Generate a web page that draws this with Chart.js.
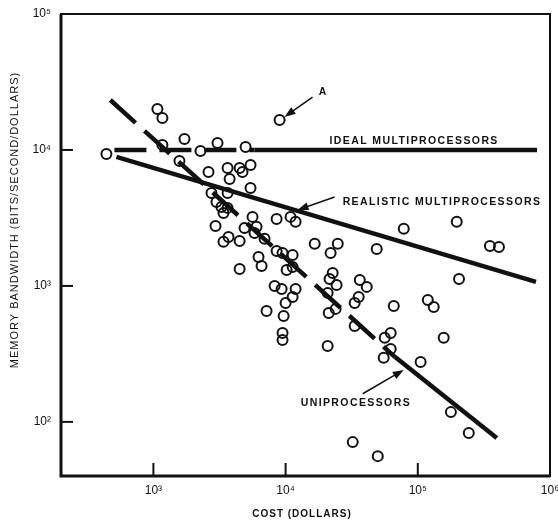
<!DOCTYPE html>
<html><head><meta charset="utf-8">
<script src="https://cdn.jsdelivr.net/npm/chart.js@4/dist/chart.umd.min.js"></script>
<style>html,body{margin:0;padding:0;background:#fff}#wrap{width:558px;height:520px}</style>
</head><body><div id="wrap"><canvas id="c" width="558" height="520"></canvas></div>
<script>
// ---- data ----
const costDollars = [441,1072,1170,1170,1718,1574,2270,3055,4980,2610,3640,4490,5430,4720,3770,5430,2750,3640,3000,3270,
  3640,3390,5620,2950,4890,6030,5820,3700,3390,4490,6930,8550,9010,10900,11900,16600,8550,9480,11300,6240,
  6580,4490,10180,11300,8260,9330,11900,11300,10000,7180,9660,9480,9480,24800,21900,48900,78300,22700,21500,24300,
  20800,23900,21200,36400,41100,35700,33300,65800,119000,132000,33300,20800,62400,56200,62400,55200,105000,157000,197000,351000,
  411000,205000,178000,243000,32200,49800];
const bandwidth = [9350,20000,17200,10900,12050,8300,9840,11250,10500,6890,7380,7380,7760,6890,6120,5260,4830,4830,4150,3810,
  3750,3440,3220,2760,2670,2720,2450,2290,2110,2140,2220,3110,16630,3220,2960,2040,1810,1750,1690,1630,
  1400,1334,1312,1380,1000,950,950,830,750,655,601,451,401,2040,1750,1870,2630,1246,1125,1016,
  889,678,633,1107,984,830,750,713,789,701,508,362,451,415,344,296,276,415,2960,1970,
  1935,1125,118,83,71,56];
const idealCost = [507, 5820, 798000];
const idealBW   = [10000, 10000, 10000];
const realisticCost = [525, 783000];
const realisticBW   = [8890, 1070];
const uniCost = [472, 67000, 396000];
const uniBW   = [23300, 301, 76];
const xTickValues = [1e3, 1e4, 1e5, 1e6];
const xTickLabels = ['10³', '10⁴', '10⁵', '10⁶'];
const yTickValues = [1e2, 1e3, 1e4, 1e5];
const yTickLabels = ['10²', '10³', '10⁴', '10⁵'];
const xTitle = 'COST (DOLLARS)';
const yTitle = 'MEMORY BANDWIDTH (BITS/SECOND/DOLLARS)';
const labelTexts = ['A', 'IDEAL MULTIPROCESSORS', 'REALISTIC MULTIPROCESSORS', 'UNIPROCESSORS'];
const labelCost  = [17800, 21500, 27000, 13000];
const labelBW    = [26700, 11650, 4150, 138];
const arrowFromCost = [16000, 23500, 38300];
const arrowFromBW   = [24500, 4510, 161];
const arrowToCost   = [9820, 12300, 78300];
const arrowToBW     = [17500, 3620, 241];

const toPts = (xs, ys) => xs.map((x, i) => ({x, y: ys[i]}));
const INK = '#111';
const FONT = '"Liberation Sans", Arial, sans-serif';

const decor = {
  id: 'decor',
  afterDraw(chart) {
    const ctx = chart.ctx, a = chart.chartArea;
    const xs = chart.scales.x, ys = chart.scales.y;
    ctx.save();
    ctx.strokeStyle = INK; ctx.fillStyle = INK;
    // frame
    ctx.lineWidth = 2;
    ctx.strokeRect(a.left, a.top, a.right - a.left, a.bottom - a.top);
    ctx.lineWidth = 3;
    ctx.beginPath(); ctx.moveTo(a.left, a.top); ctx.lineTo(a.left, a.bottom); ctx.lineTo(a.right, a.bottom); ctx.stroke();
    // inner ticks
    ctx.lineWidth = 2;
    yTickValues.forEach(v => {
      const y = ys.getPixelForValue(v);
      ctx.beginPath(); ctx.moveTo(a.left, y); ctx.lineTo(a.left + 12, y); ctx.stroke();
    });
    xTickValues.forEach(v => {
      const x = xs.getPixelForValue(v);
      ctx.beginPath(); ctx.moveTo(x, a.bottom); ctx.lineTo(x, a.bottom - 13); ctx.stroke();
    });
    // annotation labels
    ctx.font = 'bold 10.5px ' + FONT;
    ctx.letterSpacing = '1.4px';
    ctx.textBaseline = 'middle'; ctx.textAlign = 'left';
    labelTexts.forEach((t, i) => {
      ctx.fillText(t, xs.getPixelForValue(labelCost[i]), ys.getPixelForValue(labelBW[i]));
    });
    // arrows
    ctx.lineWidth = 1.5;
    arrowFromCost.forEach((c, i) => {
      const x1 = xs.getPixelForValue(c), y1 = ys.getPixelForValue(arrowFromBW[i]);
      const x2 = xs.getPixelForValue(arrowToCost[i]), y2 = ys.getPixelForValue(arrowToBW[i]);
      const ang = Math.atan2(y2 - y1, x2 - x1);
      ctx.beginPath(); ctx.moveTo(x1, y1); ctx.lineTo(x2 - 6 * Math.cos(ang), y2 - 6 * Math.sin(ang)); ctx.stroke();
      const L = 11, W = 4;
      ctx.beginPath();
      ctx.moveTo(x2, y2);
      ctx.lineTo(x2 - L * Math.cos(ang) + W * Math.sin(ang), y2 - L * Math.sin(ang) - W * Math.cos(ang));
      ctx.lineTo(x2 - L * Math.cos(ang) - W * Math.sin(ang), y2 - L * Math.sin(ang) + W * Math.cos(ang));
      ctx.closePath(); ctx.fill();
    });
    // axis titles
    ctx.font = '11px ' + FONT;
    ctx.letterSpacing = '1px';
    ctx.textAlign = 'center';
    ctx.save();
    ctx.translate(15, (a.top + a.bottom) / 2 - 25);
    ctx.rotate(-Math.PI / 2);
    ctx.fillText(yTitle, 0, 0);
    ctx.restore();
    ctx.font = 'bold 10px ' + FONT;
    ctx.fillText(xTitle, 302, 514);
    ctx.restore();
  }
};

new Chart(document.getElementById('c'), {
  type: 'scatter',
  data: {
    datasets: [
      { type: 'line', data: toPts(idealCost, idealBW), borderColor: INK, borderWidth: 4.5, pointRadius: 0,
        segment: { borderDash: ctx => ctx.p0DataIndex === 0 ? [32, 13] : undefined } },
      { type: 'line', data: toPts(realisticCost, realisticBW), borderColor: INK, borderWidth: 4.5, pointRadius: 0 },
      { type: 'line', data: toPts(uniCost, uniBW), borderColor: INK, borderWidth: 4.5, pointRadius: 0,
        segment: { borderDash: ctx => ctx.p0DataIndex === 0 ? [34, 12] : undefined } },
      { data: toPts(costDollars, bandwidth), pointStyle: 'circle', pointRadius: 5, borderWidth: 2,
        borderColor: INK, backgroundColor: 'rgba(0,0,0,0)' }
    ]
  },
  options: {
    responsive: false, animation: false, devicePixelRatio: 1,
    layout: { padding: { top: 14, right: 8, left: 0, bottom: 0 } },
    plugins: { legend: { display: false }, tooltip: { enabled: false } },
    scales: {
      x: {
        type: 'logarithmic', min: 200, max: 1e6,
        afterBuildTicks: s => { s.ticks = xTickValues.map(v => ({ value: v })); },
        afterFit: s => { s.height = 44; s.paddingLeft = 0; s.paddingRight = 0; },
        grid: { display: false, drawTicks: false }, border: { display: false },
        ticks: { autoSkip: false, maxRotation: 0, padding: 7, color: INK,
          font: { family: FONT, size: 12 },
          callback: v => xTickLabels[xTickValues.indexOf(v)] ?? '' }
      },
      y: {
        type: 'logarithmic', min: 40, max: 1e5,
        afterBuildTicks: s => { s.ticks = yTickValues.map(v => ({ value: v })); },
        afterFit: s => { s.width = 61; s.paddingTop = 0; s.paddingBottom = 0; },
        grid: { display: false, drawTicks: false }, border: { display: false },
        ticks: { autoSkip: false, padding: 10, color: INK,
          font: { family: FONT, size: 12 },
          callback: v => yTickLabels[yTickValues.indexOf(v)] ?? '' }
      }
    }
  },
  plugins: [decor]
});
</script></body></html>
